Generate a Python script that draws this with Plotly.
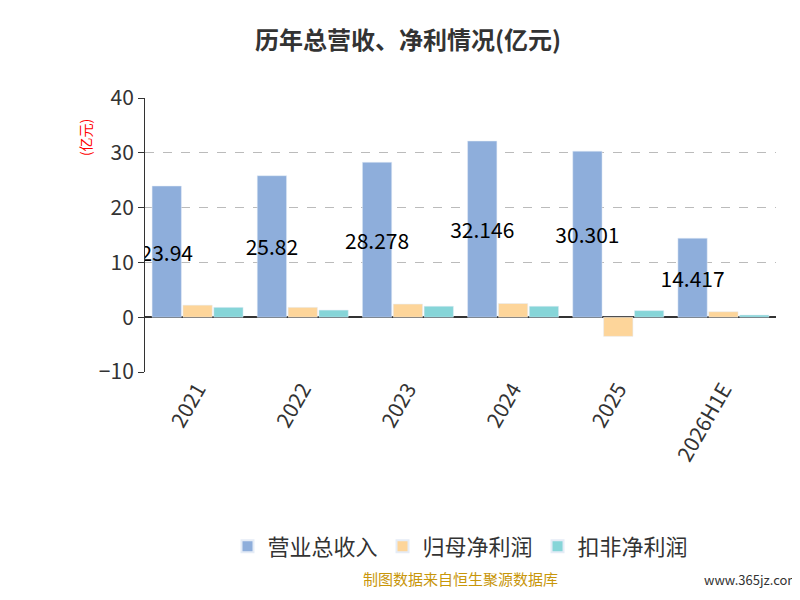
import plotly.graph_objects as go

years = ['2021', '2022', '2023', '2024', '2025', '2026H1E']
revenue = [23.94, 25.82, 28.278, 32.146, 30.301, 14.417]
net_profit = [2.2, 1.8, 2.4, 2.5, -3.5, 1.0]
net_profit_ex = [1.8, 1.3, 2.0, 2.0, 1.2, 0.4]

fig = go.Figure()
fig.add_trace(go.Bar(x=years, y=revenue, name='营业总收入', marker_color='#8eaedb',
                     text=[str(v) for v in revenue], textposition='inside',
                     insidetextanchor='middle', constraintext='none',
                     textfont=dict(size=21, color='black'), textangle=0))
fig.add_trace(go.Bar(x=years, y=net_profit, name='归母净利润', marker_color='#fdd59a'))
fig.add_trace(go.Bar(x=years, y=net_profit_ex, name='扣非净利润', marker_color='#86d5d8'))

fig.update_layout(
    width=800, height=600, barmode='group', bargap=0.12, bargroupgap=0.05,
    plot_bgcolor='white', paper_bgcolor='white',
    font=dict(family='Noto Sans CJK SC', color='#333'),
    title=dict(text='<b>历年总营收、净利情况(亿元)</b>', x=0.5, y=0.96,
               font=dict(size=24, color='#333')),
    margin=dict(l=137, r=32, t=90, b=236, autoexpand=False),
    legend=dict(orientation='h', x=0.5, xanchor='center', y=-0.56,
                font=dict(size=22, color='#333'), itemsizing='constant'),
    xaxis=dict(tickangle=-60, tickfont=dict(size=21, color='#333'), showline=False,
               ticks='', automargin=False),
    yaxis=dict(range=[-10, 40], dtick=10, gridcolor='#bbb', griddash='dash',
               tickfont=dict(size=21, color='#333'), zeroline=True, automargin=False,
               zerolinecolor='#333', zerolinewidth=1.5, ticks='outside',
               ticklen=6, tickcolor='#333', showline=True, linecolor='#333'),
)
fig.add_annotation(text='(亿元)', textangle=-90, xref='paper', yref='paper',
                   x=-0.115, y=0.93, showarrow=False, font=dict(color='red', size=14))
fig.add_annotation(text='制图数据来自恒生聚源数据库', xref='paper', yref='paper',
                   x=0.5, y=-0.80, showarrow=False, font=dict(color='#c8960a', size=15))
fig.add_annotation(text='www.365jz.com', xref='paper', yref='paper',
                   x=1.04, y=-0.80, xanchor='right', showarrow=False,
                   font=dict(color='#333', size=13))
fig.write_html('out.html')
